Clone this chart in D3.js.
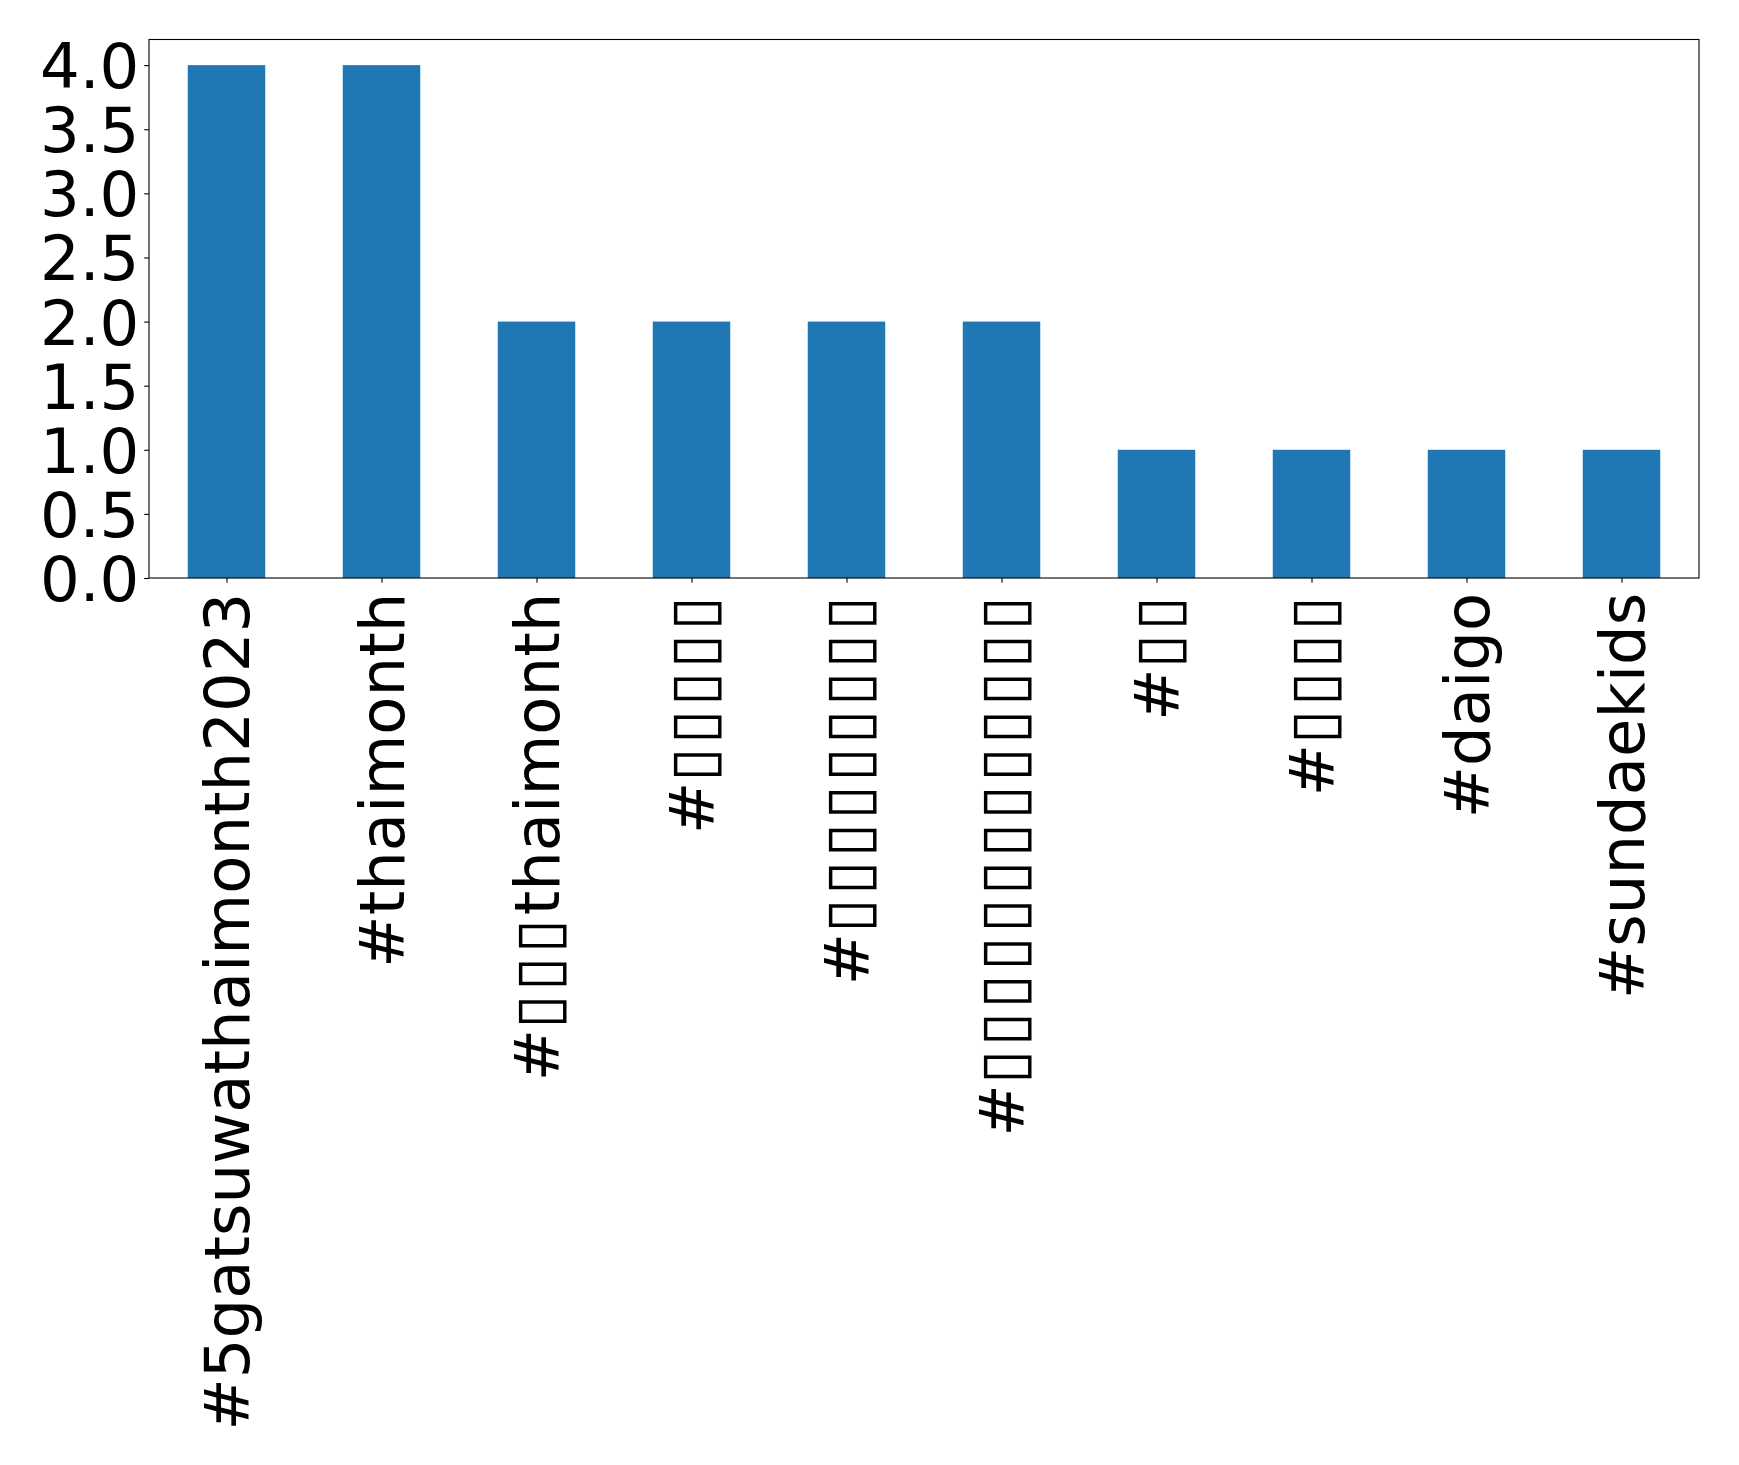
<!DOCTYPE html>
<html>
<head>
<meta charset="utf-8">
<script src="https://cdn.jsdelivr.net/npm/d3@7"></script>
<style>
  body { margin: 0; background: #fff; }
  svg { display: block; font-family: "DejaVu Sans", sans-serif; }
</style>
</head>
<body>
<svg id="chart"></svg>
<script>
// Hashtags (the Japanese glyphs show up as empty boxes in the original)
const B = "\u25AF";
const tags = [
  "#5gatsuwathaimonth2023",
  "#thaimonth",
  "#" + B.repeat(3) + "thaimonth",
  "#" + B.repeat(5),
  "#" + B.repeat(9),
  "#" + B.repeat(13),
  "#" + B.repeat(2),
  "#" + B.repeat(4),
  "#daigo",
  "#sundaekids"
];
const counts = [4, 4, 2, 2, 2, 2, 1, 1, 1, 1];
const yTicks = [0, 0.5, 1, 1.5, 2, 2.5, 3, 3.5, 4];

const W = 1739, H = 1465;
const margin = { top: 39.5, right: 40, bottom: 887, left: 149 };
const width = W - margin.left - margin.right;
const height = H - margin.top - margin.bottom;
const fontSize = 62.5;
const tickLen = 4.86, tickPad = 4.86;

const svg = d3.select("#chart")
  .attr("width", W)
  .attr("height", H);

const g = svg.append("g")
  .attr("transform", `translate(${margin.left}, ${margin.top})`);

// X scale: bars of width 0.5 on unit slots, xlim -0.5..n-0.5
const xScale = d3.scaleLinear()
  .domain([-0.5, tags.length - 0.5])
  .range([0, width]);

// Y scale
const yScale = d3.scaleLinear()
  .domain([0, 4.2])
  .range([height, 0]);

// Bars
g.selectAll(".bar")
  .data(counts)
  .enter()
  .append("rect")
  .attr("class", "bar")
  .attr("x", (d, i) => xScale(i - 0.25))
  .attr("y", (d) => yScale(d))
  .attr("width", xScale(0.25) - xScale(-0.25))
  .attr("height", (d) => height - yScale(d))
  .attr("fill", "#1f77b4");

// Y axis
const yAxis = g.append("g")
  .call(d3.axisLeft(yScale)
    .tickValues(yTicks)
    .tickFormat(d3.format(".1f"))
    .tickSize(tickLen)
    .tickPadding(tickPad));
yAxis.select(".domain").remove();
yAxis.selectAll("line").attr("stroke", "#000").attr("stroke-width", 1.1);
yAxis.selectAll("text")
  .attr("fill", "#000")
  .style("font-size", fontSize + "px")
  .style("font-family", "DejaVu Sans")
  .attr("dy", "0.36em");

// X axis
const xAxis = g.append("g")
  .attr("transform", `translate(0, ${height})`)
  .call(d3.axisBottom(xScale)
    .tickValues(d3.range(tags.length))
    .tickFormat((i) => tags[i])
    .tickSize(tickLen)
    .tickPadding(tickPad));
xAxis.select(".domain").remove();
xAxis.selectAll("line").attr("stroke", "#000").attr("stroke-width", 1.1);
xAxis.selectAll("text")
  .attr("fill", "#000")
  .style("font-size", fontSize + "px")
  .style("font-family", "DejaVu Sans")
  .attr("y", 0)
  .attr("dy", null)
  .attr("transform", `translate(0, ${tickLen + tickPad + 5}) rotate(-90)`)
  .attr("text-anchor", "end")
  .attr("dominant-baseline", "central")
  .each(function (i) {
    // split into runs so the box glyphs get a little extra spacing
    const t = d3.select(this).text("");
    const runs = tags[i].match(/\u25AF+|[^\u25AF]+/g);
    runs.forEach((r) => {
      const ts = t.append("tspan").text(r);
      if (r[0] === B) ts.style("letter-spacing", "3.4px");
    });
  });

// Frame
g.append("rect")
  .attr("width", width)
  .attr("height", height)
  .attr("fill", "none")
  .attr("stroke", "#000")
  .attr("stroke-width", 1.1);
</script>
</body>
</html>
